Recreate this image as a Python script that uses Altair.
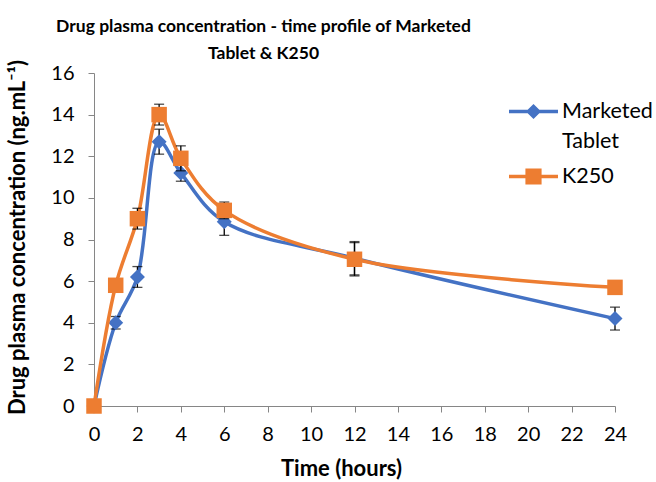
import altair as alt
import pandas as pd

# ---- data ----
time = [0, 1, 2, 3, 4, 6, 12, 24]
marketed = [0, 4.0, 6.2, 12.7, 11.2, 8.85, 7.1, 4.2]
marketed_err = [0, 0.3, 0.5, 0.6, 0.4, 0.65, 0.8, 0.55]
k250 = [0, 5.8, 9.0, 14.0, 11.9, 9.4, 7.05, 5.7]
k250_err = [0, 0.25, 0.5, 0.5, 0.6, 0.4, 0.8, 0.2]
series = ["Marketed Tablet", "K250"]
colors = ["#4472C4", "#ED7D31"]
x_ticks = list(range(0, 25, 2))
y_ticks = list(range(0, 17, 2))

rows = []
for name, vals, errs in [(series[0], marketed, marketed_err), (series[1], k250, k250_err)]:
    for t, v, e in zip(time, vals, errs):
        rows.append({"series": name, "time": t, "conc": v, "lo": v - e, "hi": v + e})
df = pd.DataFrame(rows)

FONT = "Lato"
xscale = alt.Scale(domain=[0, 24], nice=False, zero=True)
yscale = alt.Scale(domain=[0, 16], nice=False, zero=True)
xaxis = alt.Axis(values=x_ticks, title="Time (hours)", grid=False, tickSize=6,
                 labelPadding=12, labelFlush=False, titleX=247, titleY=69,
                 titleBaseline="alphabetic", titleAlign="center")
yaxis = alt.Axis(values=y_ticks, title="Drug plasma concentration (ng.mL⁻¹)", grid=False,
                 tickSize=6, labelPadding=14, labelFlush=False, titleX=-70, titleY=164,
                 titleBaseline="alphabetic", titleAlign="center", titleAngle=270)


def X():
    return alt.X("time:Q", scale=xscale, axis=xaxis)


def Y(field):
    return alt.Y(f"{field}:Q", scale=yscale, axis=yaxis)


base = alt.Chart(df)
layers = []
for name, color, shape, size in zip(series, colors, ["diamond", "square"], [225, 240]):
    sub = base.transform_filter(alt.datum.series == name)
    line = sub.mark_line(color=color, strokeWidth=3.5, interpolate="catmull-rom").encode(
        x=X(), y=Y("conc"))
    rule = sub.mark_rule(color="black", strokeWidth=1.3).encode(
        x=X(), y=Y("lo"), y2="hi:Q")
    cap_lo = sub.mark_tick(color="black", orient="horizontal", size=10, thickness=1.3).encode(
        x=X(), y=Y("lo"))
    cap_hi = sub.mark_tick(color="black", orient="horizontal", size=10, thickness=1.3).encode(
        x=X(), y=Y("hi"))
    pts = sub.mark_point(filled=True, shape=shape, size=size, color=color, opacity=1).encode(
        x=X(), y=Y("conc"))
    layers += [line, rule, cap_lo, cap_hi, pts]

legend_paths = [
    "M-1,-0.07H1V0.07H-1Z M0,-0.31L0.31,0L0,0.31L-0.31,0Z",
    "M-1,-0.07H1V0.07H-1Z M-0.33,-0.33H0.33V0.33H-0.33Z",
]
legend_kw = dict(title=None, orient="none", legendX=415, legendY=14,
                 symbolSize=2401, symbolStrokeWidth=0, symbolOpacity=1,
                 labelFont=FONT, labelFontSize=21.5, labelColor="black",
                 labelOffset=4, labelLimit=300, padding=0,
                 labelExpr="datum.label == 'Marketed Tablet' ? ['Marketed', 'Tablet'] : datum.label")
legend_layer = base.mark_point(filled=True, opacity=0, size=1).encode(
    x=X(), y=Y("conc"),
    color=alt.Color("series:N", scale=alt.Scale(domain=series, range=colors),
                    legend=alt.Legend(**legend_kw)),
    shape=alt.Shape("series:N", scale=alt.Scale(domain=series, range=legend_paths),
                    legend=alt.Legend(**legend_kw)),
)
layers.append(legend_layer)

chart = alt.layer(*layers).properties(
    width=521, height=333,
    autosize=alt.AutoSizeParams(type="none"),
    padding={"left": 94, "top": 73, "right": 41, "bottom": 76},
    title=alt.TitleParams(
        text=["Drug plasma concentration - time profile of Marketed", "Tablet & K250"],
        font=FONT, fontSize=17.5, fontWeight="bold", color="black",
        anchor="middle", dx=-91, dy=9, offset=6, lineHeight=27),
).configure(
    style={"guide-label": {"lineHeight": 30}}
).configure_view(stroke=None).configure_axis(
    labelFont=FONT, labelFontSize=20, labelColor="black",
    titleFont=FONT, titleFontSize=22, titleFontWeight="bold", titleColor="black",
    domainColor="#868686", tickColor="#868686", domainWidth=1, tickWidth=1,
).configure_legend(rowPadding=-12)

chart.save("out.html", embed_options={"renderer": "svg", "actions": False})
